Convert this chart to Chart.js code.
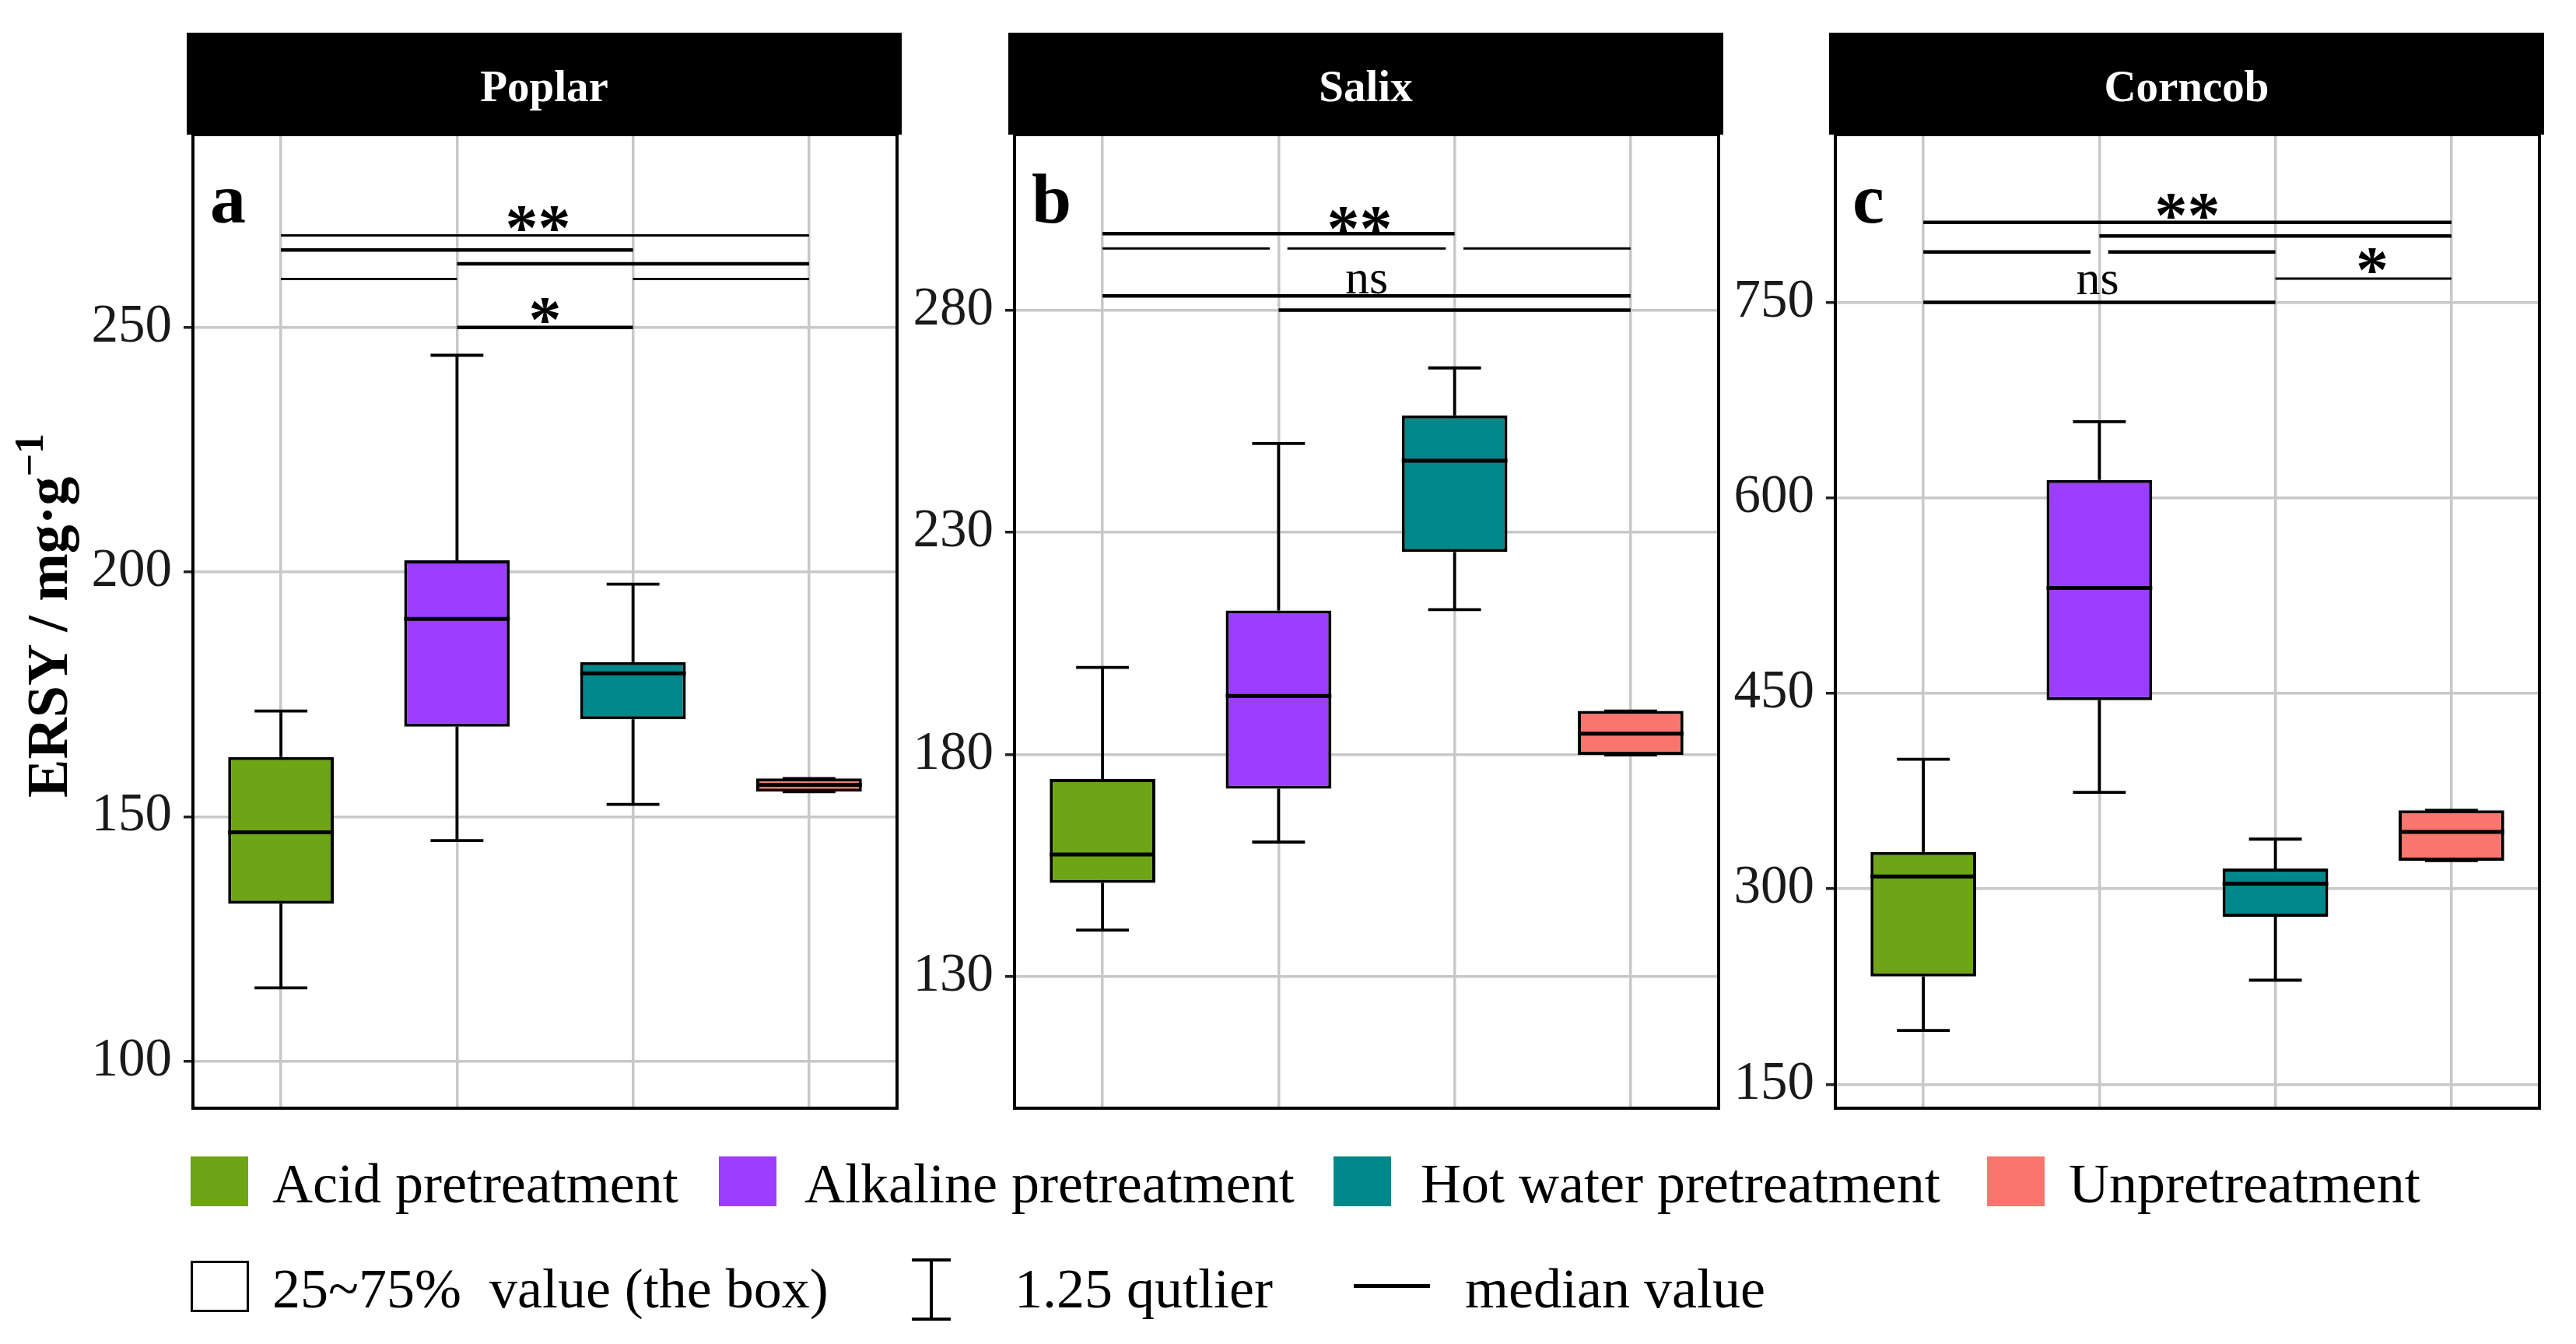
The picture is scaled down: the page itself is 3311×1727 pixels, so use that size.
<!DOCTYPE html>
<html><head><meta charset="utf-8">
<script src="https://cdn.jsdelivr.net/npm/chart.js@4.4.1/dist/chart.umd.min.js"></script>
<style>
html,body{margin:0;padding:0;background:#fff;}
body{width:3311px;height:1727px;position:relative;overflow:hidden;font-family:'Liberation Serif','Times New Roman',serif;}
canvas{position:absolute;}
.strip{position:absolute;top:42px;height:131px;background:#000;color:#fff;font-family:'Liberation Serif','Times New Roman',serif;font-weight:bold;font-size:57px;display:flex;align-items:center;justify-content:center;box-sizing:border-box;padding-top:6px;}
.key{position:absolute;width:74px;height:64px;top:1486px;}
.lt{position:absolute;font:72px/72px 'Liberation Serif';color:#000;white-space:pre;}
#ytitle{position:absolute;left:61px;top:791px;transform:translate(-50%,-50%) rotate(-90deg);font:bold 74px/74px 'Liberation Serif';white-space:nowrap;color:#000;}
#ytitle sup{font-size:0.7em;line-height:0;vertical-align:0.6em;}
</style></head><body>
<div id="ytitle">ERSY / mg·g<sup>−1</sup></div>
<canvas id="c0"></canvas><canvas id="c1"></canvas><canvas id="c2"></canvas>
<div id="strips"></div>
<div id="legend"></div>
<script>
// ---------- data ----------
const categories = ['Acid pretreatment','Alkaline pretreatment','Hot water pretreatment','Unpretreatment'];
const panelNames = ['Poplar','Salix','Corncob'];
const panelLetters = ['a','b','c'];

// Poplar
const poplarLow  = [115.0, 145.1, 152.5, 155.1];
const poplarQ1   = [132.2, 168.4, 169.9, 155.1];
const poplarMed  = [146.8, 190.4, 179.3, 156.5];
const poplarQ3   = [162.2, 202.4, 181.6, 157.8];
const poplarHigh = [171.6, 244.3, 197.5, 157.8];
const poplarTicks = [100, 150, 200, 250];
const poplarRange = [90.4, 289.4];
const poplarSigThick = [[1,3,265.8],[2,4,263.0],[2,3,250.0]];
const poplarSigThin  = [[1,4,268.8],[1,2,259.9],[3,4,259.9]];
const poplarSigText  = [['**',2.46,272.6],['*',2.5,253.7]];

// Salix
const salixLow  = [140.5, 160.3, 212.6, 179.9];
const salixQ1   = [151.1, 172.3, 225.6, 179.9];
const salixMed  = [157.5, 193.2, 246.1, 184.7];
const salixQ3   = [174.5, 212.4, 256.3, 189.8];
const salixHigh = [199.6, 250.0, 267.0, 189.8];
const salixTicks = [130, 180, 230, 280];
const salixRange = [100.4, 319.5];
const salixSigThick = [[1,3,297.2],[1,4,283.2],[2,4,280.0]];
const salixSigThin  = [[1,1.95,293.9],[2.05,2.95,293.9],[3.05,4,293.9]];
const salixSigText  = [['**',2.46,300.7],['ns',2.5,286.3]];

// Corncob
const corncobLow  = [191.4, 374.1, 230.0, 321.7];
const corncobQ1   = [232.8, 444.8, 278.6, 321.7];
const corncobMed  = [309.5, 530.9, 304.0, 343.7];
const corncobQ3   = [328.3, 613.7, 315.6, 360.3];
const corncobHigh = [399.5, 658.4, 338.2, 360.3];
const corncobTicks = [150, 300, 450, 600, 750];
const corncobRange = [131.8, 878.6];
const corncobSigThick = [[1,4,811.3],[2,4,800.8],[1,1.95,788.6],[2.05,3,788.6],[1,3,750.0]];
const corncobSigThin  = [[3,4,768.2]];
const corncobSigText  = [['**',2.5,825.0],['*',3.55,783.0],['ns',1.99,765.0]];

// ---------- styles ----------
const fillColors = ['#6DA516','#9B3EFF','#00878A','#F8766D'];
const GRID = '#c8c8c8';
const FONT = "'Liberation Serif'";

const panels = [
  {low:poplarLow,q1:poplarQ1,med:poplarMed,q3:poplarQ3,high:poplarHigh,ticks:poplarTicks,range:poplarRange,thick:poplarSigThick,thin:poplarSigThin,text:poplarSigText,plotLeft:248},
  {low:salixLow,q1:salixQ1,med:salixMed,q3:salixQ3,high:salixHigh,ticks:salixTicks,range:salixRange,thick:salixSigThick,thin:salixSigThin,text:salixSigText,plotLeft:1304},
  {low:corncobLow,q1:corncobQ1,med:corncobMed,q3:corncobQ3,high:corncobHigh,ticks:corncobTicks,range:corncobRange,thick:corncobSigThick,thin:corncobSigThin,text:corncobSigText,plotLeft:2359}
];

const PLOT_W = 905, PLOT_TOP = 173, PLOT_BOTTOM = 1424;
const AXW = 200, PAD_T = 80, PAD_R = 10, PAD_B = 80;
const CAN_TOP = PLOT_TOP - PAD_T;
const CAP = 0.15, HALF_BOX = 0.3;

function segs(list){
  const pts=[];
  list.forEach(([x1,x2,y])=>{pts.push({x:x1,y},{x:x2,y},{x:x2,y:null});});
  return pts;
}
function whiskers(p){
  const pts=[];
  p.low.forEach((v,i)=>{
    const x=i+1;
    pts.push({x,y:p.q3[i]},{x,y:p.high[i]},{x,y:null},
             {x:x-CAP,y:p.high[i]},{x:x+CAP,y:p.high[i]},{x,y:null},
             {x,y:p.q1[i]},{x,y:p.low[i]},{x,y:null},
             {x:x-CAP,y:p.low[i]},{x:x+CAP,y:p.low[i]},{x,y:null});
  });
  return pts;
}
function medians(p){
  const pts=[];
  p.med.forEach((m,i)=>{const x=i+1;pts.push({x:x-HALF_BOX,y:m},{x:x+HALF_BOX,y:m},{x,y:null});});
  return pts;
}
const lineBase = {type:'line',pointRadius:0,pointHoverRadius:0,borderColor:'#000',fill:false,tension:0,spanGaps:false,borderCapStyle:'butt'};

panels.forEach((p,k)=>{
  const cv = document.getElementById('c'+k);
  const W = AXW + PLOT_W + PAD_R;
  const H = (PLOT_BOTTOM - CAN_TOP) + PAD_B;
  cv.width = W; cv.height = H;
  cv.style.left = (p.plotLeft - AXW)+'px'; cv.style.top = CAN_TOP+'px';
  cv.style.width = W+'px'; cv.style.height = H+'px';

  const overlay = {
    id:'overlay'+k,
    afterDatasetsDraw(chart){
      const {ctx, chartArea:a} = chart;
      const xs = chart.scales.x, ys = chart.scales.y;
      ctx.save();
      ctx.fillStyle='#000';
      ctx.textAlign='center'; ctx.textBaseline='alphabetic';
      p.text.forEach(([t,xv,yv])=>{
        const star = t.indexOf('*')>=0;
        const fs = star ? 84 : 62;
        ctx.font = (star?'bold ':'')+fs+'px '+FONT;
        ctx.fillText(t, xs.getPixelForValue(xv), ys.getPixelForValue(yv) + (star?0.5:0.23)*fs);
      });
      ctx.textAlign='left';
      ctx.font = 'bold 92px '+FONT;
      ctx.fillText(panelLetters[k], a.left+22, a.top+113);
      ctx.strokeStyle='#000'; ctx.lineWidth=4;
      ctx.strokeRect(a.left, a.top, a.right-a.left, a.bottom-a.top);
      ctx.restore();
    }
  };

  new Chart(cv.getContext('2d'), {
    data:{datasets:[
      Object.assign({}, lineBase, {label:'whiskers', data:whiskers(p), borderWidth:3.8, order:4}),
      {type:'bar', label:'box', data:p.q1.map((v,i)=>({x:i+1,y:[p.q1[i],p.q3[i]]})),
       backgroundColor:fillColors, borderColor:'#000', borderWidth:4, borderSkipped:false,
       barPercentage:0.6, categoryPercentage:1, order:3},
      Object.assign({}, lineBase, {label:'median', data:medians(p), borderWidth:5, order:2}),
      Object.assign({}, lineBase, {label:'sigThick', data:segs(p.thick), borderWidth:4.5, order:1}),
      Object.assign({}, lineBase, {label:'sigThin', data:segs(p.thin), borderWidth:3, order:1})
    ]},
    options:{
      responsive:false, animation:false, devicePixelRatio:1,
      layout:{autoPadding:false, padding:{top:PAD_T, right:PAD_R, bottom:PAD_B, left:0}},
      plugins:{legend:{display:false}, tooltip:{enabled:false}},
      events:[],
      scales:{
        x:{type:'linear', min:0.5, max:4.5, offset:false,
           afterBuildTicks:s=>{s.ticks=[1,2,3,4].map(v=>({value:v}));},
           ticks:{display:false},
           grid:{color:GRID, lineWidth:3.5, drawTicks:false, offset:false},
           border:{display:false},
           afterFit:s=>{s.height=0;}},
        y:{type:'linear', min:p.range[0], max:p.range[1],
           afterBuildTicks:s=>{s.ticks=p.ticks.map(v=>({value:v}));},
           ticks:{font:{family:'Liberation Serif', size:69}, color:'#1a1a1a', padding:15},
           grid:{color:GRID, lineWidth:3.5, tickColor:'#222', tickLength:12, tickWidth:3.5},
           border:{display:false},
           afterFit:s=>{s.width=AXW;}}
      }
    },
    plugins:[overlay]
  });

  const st = document.createElement('div');
  st.className='strip';
  st.style.left=(p.plotLeft-8)+'px'; st.style.width=(PLOT_W+14)+'px';
  st.textContent=panelNames[k];
  document.getElementById('strips').appendChild(st);
});

// ---------- legend ----------
const legend = document.getElementById('legend');
const keyLefts = [245, 924, 1714, 2554];
const textLefts = [350, 1034, 1826, 2659];
categories.forEach((c,i)=>{
  const k=document.createElement('div'); k.className='key';
  k.style.left=keyLefts[i]+'px'; k.style.background=fillColors[i];
  legend.appendChild(k);
  const t=document.createElement('div'); t.className='lt';
  t.style.left=textLefts[i]+'px'; t.style.top='1485px'; t.textContent=c;
  legend.appendChild(t);
});
function addEl(style, text){
  const d=document.createElement('div');
  d.style.cssText='position:absolute;'+style;
  if(text!==undefined){d.className='lt';d.textContent=text;}
  legend.appendChild(d);
}
addEl('left:245px;top:1620px;width:75px;height:66px;border:3px solid #000;box-sizing:border-box;background:#fff;');
addEl('left:350px;top:1620px;', '25~75%  value (the box)');
addEl('left:1172px;top:1617px;width:50px;height:4px;background:#000;');
addEl('left:1195px;top:1617px;width:4px;height:80px;background:#000;');
addEl('left:1172px;top:1693px;width:50px;height:4px;background:#000;');
addEl('left:1304px;top:1620px;', '1.25 qutlier');
addEl('left:1740px;top:1650px;width:98px;height:5px;background:#000;');
addEl('left:1883px;top:1620px;', 'median value');
</script>
</body></html>
